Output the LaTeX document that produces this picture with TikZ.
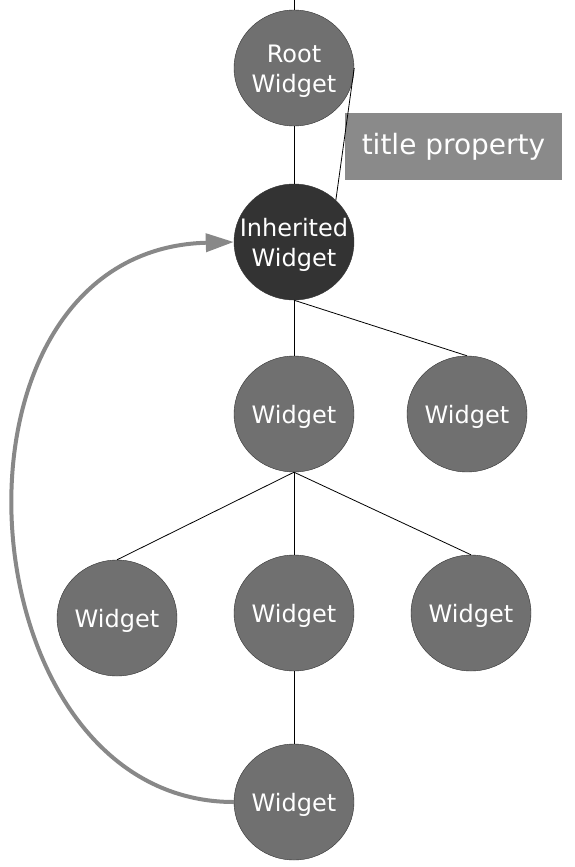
\documentclass[tikz,border=0pt]{standalone}
\usepackage{fontspec}
\setmainfont{DejaVu Sans}
\usetikzlibrary{shapes.geometric,arrows.meta}

\definecolor{widgetgray}{RGB}{112,112,112}
\definecolor{inhgray}{RGB}{51,51,51}
\definecolor{boxgray}{RGB}{138,138,138}
\definecolor{flowgray}{RGB}{136,136,136}

\begin{document}
\begin{tikzpicture}[x=1pt,y=-1pt]
        \tikzstyle{widget}=[ellipse, draw=black!80, fill=widgetgray, minimum width=120pt, minimum height=116pt, inner sep=0pt]
        \tikzstyle{wtext}=[text=white, align=center, yshift=-3pt, font=\fontsize{24}{30}\selectfont]
        \tikzstyle{titlebox}=[fill=boxgray, text=white, minimum width=217pt, minimum height=67pt, font=\fontsize{28}{32}\selectfont]
        \tikzstyle{link}=[draw=black, line width=0.8pt]
        \tikzstyle{flow}=[draw=flowgray, line width=4pt, -{Triangle[length=28pt, width=18pt]}]

        \useasboundingbox (0,0) rectangle (574,867);

        % tree
        \node[widget, label={[wtext]center:{Root\\Widget}}]                    (root) at (294,68)  {};
        \node[widget, fill=inhgray, label={[wtext]center:{Inherited\\Widget}}] (inh)  at (294,242) {};
        \node[widget, label={[wtext]center:Widget}] (w1)  at (294,414) {};
        \node[widget, label={[wtext]center:Widget}] (w2)  at (467,414) {};
        \node[widget, label={[wtext]center:Widget}] (w11) at (117,618) {};
        \node[widget, label={[wtext]center:Widget}] (w12) at (294,613) {};
        \node[widget, label={[wtext]center:Widget}] (w13) at (471,613) {};
        \node[widget, label={[wtext]center:Widget}] (w121) at (294,802) {};

        \node[titlebox] (title) at (453.5,146.5) {title property};

        \coordinate (top) at (294,0);

        \draw[link] (top) -- (root);
        \draw[link] (root) -- (inh);
        \draw[link] (inh.south) -- (w1.north);
        \draw[link] (inh.south) -- (w2.north);
        \draw[link] (w1.south) -- (w11.north);
        \draw[link] (w1.south) -- (w12.north);
        \draw[link] (w1.south) -- (w13.north);
        \draw[link] (w12) -- (w121);
        \draw[link] (root.east) -- (inh.45);

        % context lookup
        \draw[flow] (w121.west) .. controls (-40,802) and (-75,250) .. (inh.west);

\end{tikzpicture}
\end{document}
